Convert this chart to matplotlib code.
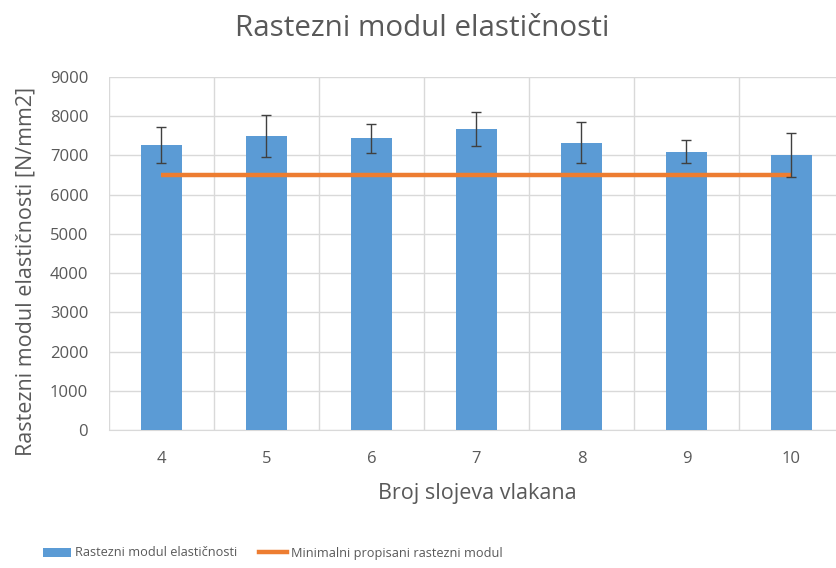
import matplotlib
matplotlib.use("Agg")
import matplotlib.pyplot as plt
from matplotlib.lines import Line2D
from matplotlib.patches import Patch
import numpy as np

plt.rcParams['font.family'] = ['Open Sans', 'DejaVu Sans']

categories = ['4', '5', '6', '7', '8', '9', '10']
values = [7260, 7500, 7440, 7670, 7330, 7100, 7020]
errors = [460, 535, 365, 440, 515, 285, 560]
minimum = [6500, 6500, 6500, 6500, 6500, 6500, 6500]
yticks = [0, 1000, 2000, 3000, 4000, 5000, 6000, 7000, 8000, 9000]

title = 'Rastezni modul elastičnosti'
xlabel = 'Broj slojeva vlakana'
ylabel = 'Rastezni modul elastičnosti [N/mm2]'
leg_bar = 'Rastezni modul elastičnosti'
leg_line = 'Minimalni propisani rastezni modul'

blue = '#5B9BD5'
orange = '#ED7D31'
gray = '#595959'

fig = plt.figure(figsize=(8.37, 5.68), dpi=100)
ax = fig.add_axes([109/837, 1-430/568, 735/837, 353/568])

x = np.arange(len(categories))
ax.bar(x, values, width=0.39, color=blue, zorder=3)
ax.errorbar(x, values, yerr=errors, fmt='none', ecolor='#404040',
            elinewidth=1.0, capsize=3.5, capthick=1.0, zorder=5)
ax.plot(x, minimum, color=orange, linewidth=3.2, zorder=4, solid_capstyle='butt')

ax.set_xlim(-0.5, len(categories) - 0.5)
ax.set_ylim(0, 9000)
ax.set_yticks(yticks)
ax.set_yticklabels([str(v) for v in yticks])
ax.set_xticks(x)
ax.set_xticklabels(categories)
ax.set_xticks(np.arange(-0.5, len(categories)), minor=True)
ax.grid(True, axis='y', color='#d9d9d9', linewidth=1.0, zorder=0)
ax.grid(True, axis='x', which='minor', color='#d9d9d9', linewidth=1.0, zorder=0)
ax.tick_params(axis='both', which='both', length=0, labelsize=12, labelcolor=gray, pad=15)
for s in ['top', 'right', 'left']:
    ax.spines[s].set_visible(False)
ax.spines['bottom'].set_color('#d9d9d9')

fig.text(422/837, 1-28/568, title, ha='center', va='center', fontsize=21.3, color=gray)
ax.set_xlabel(xlabel, fontsize=15.5, color=gray)
ax.xaxis.set_label_coords(0.501, -0.150)
ax.set_ylabel(ylabel, fontsize=15.5, color=gray)
ax.yaxis.set_label_coords(-0.098, 0.449)

handles = [Patch(facecolor=blue, edgecolor='none'),
           Line2D([0], [0], color=orange, linewidth=3.2)]
fig.legend(handles, [leg_bar, leg_line], loc='center left',
           bbox_to_anchor=(43/837, 1-553/568), borderpad=0, borderaxespad=0,
           ncol=2, frameon=False, fontsize=9.2, labelcolor=gray,
           handlelength=2.2, handletextpad=0.3, columnspacing=1.7)

fig.savefig('out.png', dpi=100)
